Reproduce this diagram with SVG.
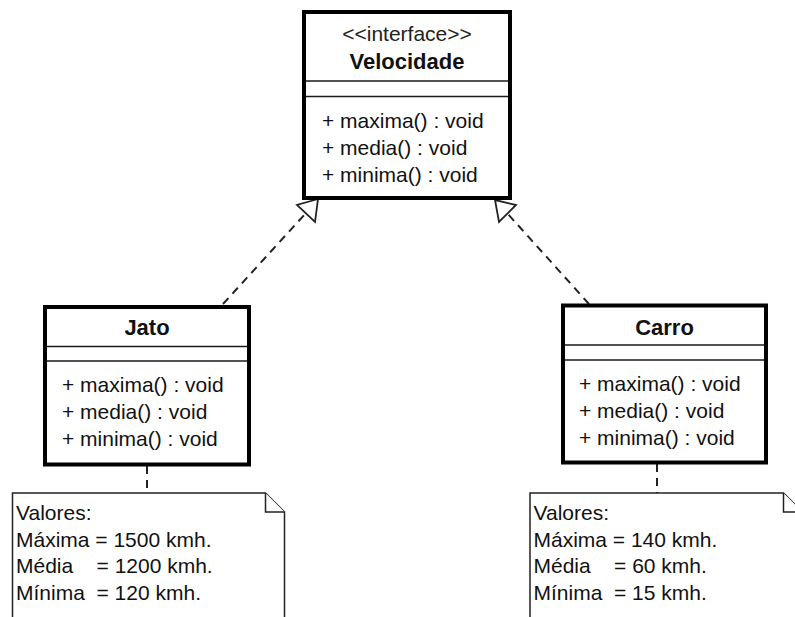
<svg xmlns="http://www.w3.org/2000/svg" width="795" height="617" viewBox="0 0 795 617">
  <style>
    .cls { fill: #fff; stroke: #000; stroke-width: 4; }
    .sep { stroke: #1a1a1a; stroke-width: 1.5; fill: none; }
    .txt { font-family: "Liberation Sans", Arial, sans-serif; font-size: 21px; fill: #111; }
    .title { font-weight: bold; font-size: 22px; text-anchor: middle; }
    .stereo { text-anchor: middle; fill: #222; }
    .note { fill: #fff; stroke: #222; stroke-width: 1.5; stroke-linejoin: miter; }
    .dash { stroke: #222; stroke-width: 2; fill: none; stroke-dasharray: 8 6; }
    .head { fill: #fff; stroke: #222; stroke-width: 1.8; stroke-linejoin: miter; }
    .pre { white-space: pre; }
  </style>

  <!-- realization connectors and note anchors -->
  <g id="connectors">
    <line class="dash" x1="223" y1="304" x2="306" y2="213"/>
    <polygon class="head" points="318,199 297,205 315,222"/>
    <line class="dash" x1="589" y1="304" x2="507" y2="213"/>
    <polygon class="head" points="495,200 516,205 499,222"/>
    <line class="dash" x1="147" y1="466" x2="147" y2="493"/>
    <line class="dash" x1="657" y1="464" x2="657" y2="493"/>
  </g>

  <!-- interface -->
  <g id="velocidade">
    <rect class="cls" x="304" y="12" width="206" height="186"/>
    <line class="sep" x1="306" y1="81" x2="508" y2="81"/>
    <line class="sep" x1="306" y1="96.5" x2="508" y2="96.5"/>
    <text class="txt stereo" x="407" y="41">&lt;&lt;interface&gt;&gt;</text>
    <text class="txt title" x="407" y="69">Velocidade</text>
    <text class="txt" x="322" y="128">+ maxima() : void</text>
    <text class="txt" x="322" y="155">+ media() : void</text>
    <text class="txt" x="322" y="182">+ minima() : void</text>
  </g>

  <!-- class Jato -->
  <g id="jato">
    <rect class="cls" x="45" y="307" width="204" height="157.5"/>
    <line class="sep" x1="47" y1="346.5" x2="247" y2="346.5"/>
    <line class="sep" x1="47" y1="361" x2="247" y2="361"/>
    <text class="txt title" x="147" y="335">Jato</text>
    <text class="txt" x="62" y="392">+ maxima() : void</text>
    <text class="txt" x="62" y="419">+ media() : void</text>
    <text class="txt" x="62" y="446">+ minima() : void</text>
  </g>

  <!-- class Carro -->
  <g id="carro">
    <rect class="cls" x="563" y="305.5" width="203" height="157"/>
    <line class="sep" x1="565" y1="345" x2="764" y2="345"/>
    <line class="sep" x1="565" y1="360" x2="764" y2="360"/>
    <text class="txt title" x="664.5" y="335">Carro</text>
    <text class="txt" x="579" y="391">+ maxima() : void</text>
    <text class="txt" x="579" y="418">+ media() : void</text>
    <text class="txt" x="579" y="445">+ minima() : void</text>
  </g>

  <!-- note attached to Jato -->
  <g id="note-jato">
    <path class="note" d="M12.5,493 L265.5,493 L284.5,512 L284.5,630 L12.5,630 Z"/>
    <path class="note" d="M265.5,493 L265.5,512 L284.5,512"/>
    <text class="txt pre" x="16" y="520">Valores:</text>
    <text class="txt pre" x="16" y="547">Máxima = 1500 kmh.</text>
    <text class="txt pre" x="16" y="573">Média    = 1200 kmh.</text>
    <text class="txt pre" x="16" y="600">Mínima  = 120 kmh.</text>
  </g>

  <!-- note attached to Carro -->
  <g id="note-carro">
    <path class="note" d="M530,493 L783.5,493 L802.5,512 L802.5,630 L530,630 Z"/>
    <path class="note" d="M783.5,493 L783.5,512 L802.5,512"/>
    <text class="txt pre" x="533.5" y="520">Valores:</text>
    <text class="txt pre" x="533.5" y="547">Máxima = 140 kmh.</text>
    <text class="txt pre" x="533.5" y="573">Média    = 60 kmh.</text>
    <text class="txt pre" x="533.5" y="600">Mínima  = 15 kmh.</text>
  </g>
</svg>
